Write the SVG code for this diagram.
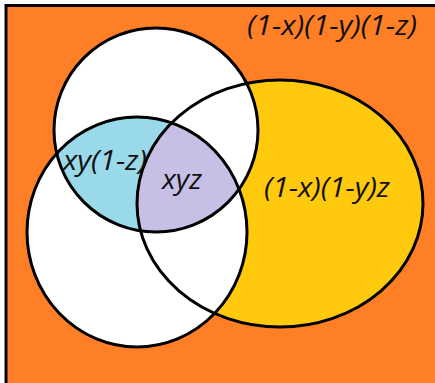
<svg xmlns="http://www.w3.org/2000/svg" width="435" height="383" viewBox="0 0 435 383">
<style>
.o{fill:none;stroke:#000;stroke-width:3}
text{font-family:"Open Sans","Noto Sans",sans-serif;font-style:italic;font-size:27px;fill:#111}
</style>
<defs>
<clipPath id="cA"><circle cx="156" cy="130" r="102"/></clipPath>
<clipPath id="cB"><ellipse cx="137" cy="232" rx="110" ry="115"/></clipPath>
<clipPath id="cC"><ellipse cx="280" cy="203.5" rx="143" ry="123.5"/></clipPath>
</defs>
<rect width="435" height="383" fill="#fff"/>
<rect x="6" y="5" width="429" height="378" fill="#FF7F27"/>
<path d="M6 383 V5.5 H435" fill="none" stroke="#000" stroke-width="3"/>
<g id="setC"><ellipse cx="280" cy="203.5" rx="143" ry="123.5" fill="#FFC90E"/></g>
<g id="setA"><circle cx="156" cy="130" r="102" fill="#fff"/></g>
<g id="setB"><ellipse cx="137" cy="232" rx="110" ry="115" fill="#fff"/></g>
<g id="regionAB" clip-path="url(#cA)"><ellipse cx="137" cy="232" rx="110" ry="115" fill="#99D9EA"/></g>
<g id="regionABC" clip-path="url(#cA)"><g clip-path="url(#cB)"><ellipse cx="280" cy="203.5" rx="143" ry="123.5" fill="#C8BFE7"/></g></g>
<g id="outlines">
<circle class="o" cx="156" cy="130" r="102"/>
<ellipse class="o" cx="137" cy="232" rx="110" ry="115"/>
<ellipse class="o" cx="280" cy="203.5" rx="143" ry="123.5"/>
</g>
<g id="labels">
<text x="247" y="35" textLength="170" lengthAdjust="spacingAndGlyphs">(1-x)(1-y)(1-z)</text>
<text x="63" y="170" textLength="84" lengthAdjust="spacingAndGlyphs">xy(1-z)</text>
<text x="162" y="189" textLength="40" lengthAdjust="spacingAndGlyphs">xyz</text>
<text x="264" y="197" textLength="126" lengthAdjust="spacingAndGlyphs">(1-x)(1-y)z</text>
</g>
</svg>
